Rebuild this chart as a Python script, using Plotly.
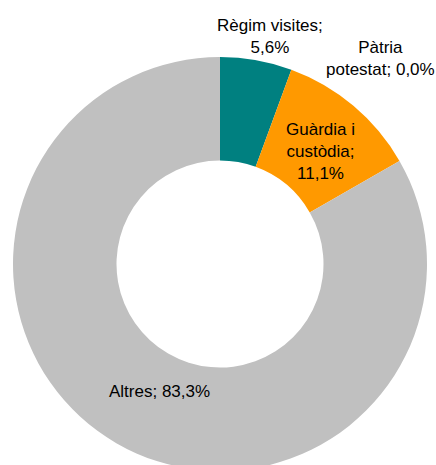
import plotly.graph_objects as go

# Data
categories = ["Règim visites", "Pàtria potestat", "Guàrdia i custòdia", "Altres"]
values = [5.6, 0.0, 11.1, 83.3]
colors = ["#008080", "#FF9900", "#FF9900", "#C0C0C0"]

W, H = 436, 472
L, R, T, B = 13, 9, 57, 1
PW, PH = W - L - R, H - T - B


def px_to_paper(x, y):
    return (x - L) / PW, 1 - (y - T) / PH


def fmt(v):
    return f"{v:.1f}".replace(".", ",") + "%"


fig = go.Figure(
    go.Pie(
        labels=categories,
        values=values,
        sort=False,
        direction="clockwise",
        rotation=0,
        hole=0.5,
        marker=dict(colors=colors, line=dict(width=0)),
        textinfo="none",
        hoverinfo="label+percent",
        showlegend=False,
    )
)

label_texts = [
    f"Règim visites;<br>{fmt(values[0])}",
    f"Pàtria<br>potestat; {fmt(values[1])}",
    f"Guàrdia i<br>custòdia;<br>{fmt(values[2])}",
    f"Altres; {fmt(values[3])}",
]
label_pos = [(270, 36), (380, 58), (320, 151), (159, 391)]

annotations = []
for txt, (x, y) in zip(label_texts, label_pos):
    ax, ay = px_to_paper(x, y)
    annotations.append(
        dict(
            text=txt,
            x=ax,
            y=ay,
            xref="paper",
            yref="paper",
            xanchor="center",
            yanchor="middle",
            showarrow=False,
            font=dict(family="Liberation Sans, Arial, sans-serif", size=17, color="#000000"),
        )
    )

fig.update_layout(
    width=W,
    height=H,
    margin=dict(l=L, r=R, t=T, b=B, pad=0),
    paper_bgcolor="#FFFFFF",
    plot_bgcolor="#FFFFFF",
    annotations=annotations,
)

fig.write_html(
    "out.html",
    config={"displayModeBar": False},
    post_script="document.body.style.margin='0';document.body.style.overflow='hidden';",
)
